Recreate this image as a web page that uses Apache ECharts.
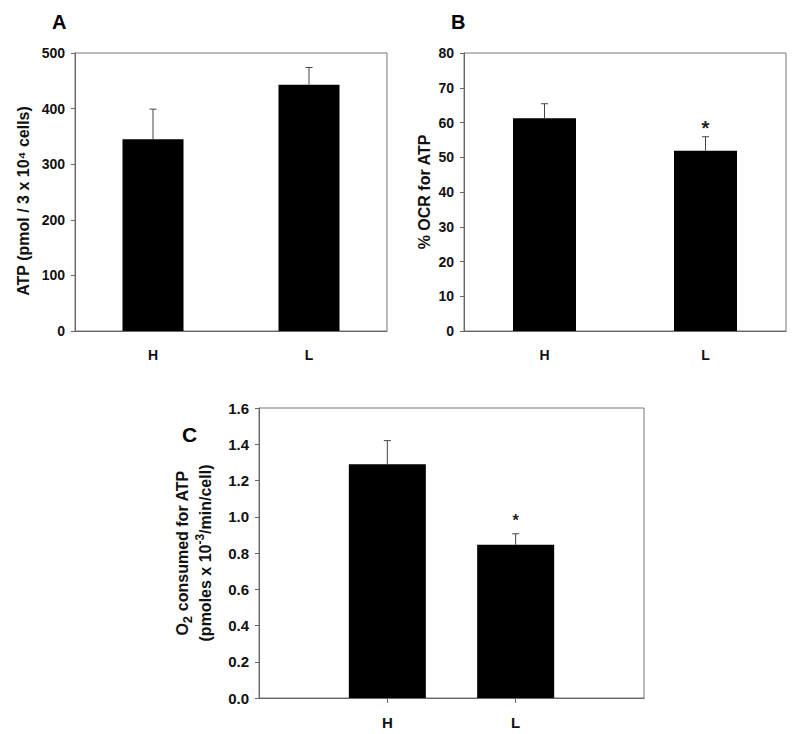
<!DOCTYPE html>
<html>
<head>
<meta charset="utf-8">
<script src="https://cdn.jsdelivr.net/npm/echarts@6/dist/echarts.min.js"></script>
<style>html,body{margin:0;padding:0;background:#fff}#c{width:800px;height:734px}</style>
</head>
<body>
<div id="c"></div>
<script>
// ---- data ----
const categories = ['H', 'L'];
const atpMean = [345, 443];
const atpErr = [54, 31];
const atpSig = [false, false];
const ocrMean = [61.2, 51.9];
const ocrErr = [4.2, 4.0];
const ocrSig = [false, true];
const o2Mean = [1.29, 0.845];
const o2Err = [0.13, 0.061];
const o2Sig = [false, true];
const yTicksA = [0, 500, 100];
const yTicksB = [0, 80, 10];
const yTicksC = [0, 1.6, 0.2];

const FONT = "'Liberation Sans', Arial, sans-serif";
const AX = '#666';

function errSeries(xi, yi, means, errs, sig, idxShift, starSize, starOff) {
  return {
    type: 'custom',
    xAxisIndex: xi, yAxisIndex: yi, z: 5,
    data: means.map((m, i) => [i + idxShift, m, errs[i], sig[i] ? 1 : 0]),
    renderItem: function (params, api) {
      const x = api.value(0), v = api.value(1), e = api.value(2), s = api.value(3);
      const b = api.coord([x, v]);
      const t = api.coord([x, v + e]);
      const ch = [
        {type: 'line', shape: {x1: b[0], y1: b[1], x2: t[0], y2: t[1]}, style: {stroke: '#444', lineWidth: 1}},
        {type: 'line', shape: {x1: t[0] - 3.5, y1: t[1], x2: t[0] + 3.5, y2: t[1]}, style: {stroke: '#444', lineWidth: 1}}
      ];
      if (s) {
        ch.push({type: 'text', style: {text: '*', x: t[0], y: t[1] - starOff, fontSize: starSize, fontWeight: 'bold', fontFamily: FONT, fill: '#222', textAlign: 'center', textVerticalAlign: 'middle'}});
      }
      return {type: 'group', children: ch};
    }
  };
}

function yAxis(gi, ticks, name, gap, nameStyle, labelSize, fmt) {
  return {
    type: 'value', gridIndex: gi, min: ticks[0], max: ticks[1], interval: ticks[2],
    name: name, nameLocation: 'middle', nameGap: gap, nameRotate: 90,
    nameTextStyle: Object.assign({fontFamily: FONT, fontWeight: 'bold', fontSize: 16, color: '#111'}, nameStyle),
    axisLine: {show: true, lineStyle: {color: AX, width: 1}},
    axisTick: {show: true, inside: false, length: 4, lineStyle: {color: AX}},
    splitLine: {show: false},
    axisLabel: {fontFamily: FONT, fontWeight: 'bold', fontSize: labelSize, color: '#111', margin: 10, formatter: fmt}
  };
}

const richC = {
  n: {fontFamily: FONT, fontWeight: 'bold', fontSize: 16, color: '#111', lineHeight: 23},
  sub: {fontFamily: FONT, fontWeight: 'bold', fontSize: 13, color: '#111', lineHeight: 13, verticalAlign: 'bottom'},
  sup: {fontFamily: FONT, fontWeight: 'bold', fontSize: 12, color: '#111', lineHeight: 12, verticalAlign: 'top'}
};

const option = {
  animation: false,
  backgroundColor: '#fff',
  title: [
    {text: 'A', left: 47, top: 7, textStyle: {fontFamily: FONT, fontWeight: 'bold', fontSize: 20, color: '#000'}},
    {text: 'B', left: 446, top: 7, textStyle: {fontFamily: FONT, fontWeight: 'bold', fontSize: 20, color: '#000'}},
    {text: 'C', left: 177, top: 419, textStyle: {fontFamily: FONT, fontWeight: 'bold', fontSize: 21, color: '#000'}}
  ],
  grid: [
    {left: 75, top: 53, width: 312, height: 278, show: true, borderColor: '#777', borderWidth: 1},
    {left: 464, top: 53, width: 322, height: 278, show: true, borderColor: '#777', borderWidth: 1},
    {left: 259, top: 408, width: 385, height: 290, show: true, borderColor: '#777', borderWidth: 1}
  ],
  xAxis: [
    {type: 'category', gridIndex: 0, data: categories,
     axisLine: {lineStyle: {color: AX}}, axisTick: {show: false},
     axisLabel: {fontFamily: FONT, fontWeight: 'bold', fontSize: 14, color: '#111', margin: 17}},
    {type: 'category', gridIndex: 1, data: categories,
     axisLine: {lineStyle: {color: AX}}, axisTick: {show: false},
     axisLabel: {fontFamily: FONT, fontWeight: 'bold', fontSize: 14, color: '#111', margin: 17}},
    {type: 'category', gridIndex: 2, data: [''].concat(categories, ['']), boundaryGap: false,
     axisLine: {lineStyle: {color: AX}},
     axisTick: {show: true, length: 5, lineStyle: {color: AX}, interval: function (i) { return i > 0 && i <= categories.length; }},
     axisLabel: {fontFamily: FONT, fontWeight: 'bold', fontSize: 15, color: '#111', margin: 17, interval: 0}}
  ],
  yAxis: [
    yAxis(0, yTicksA, 'ATP (pmol / 3 x 10\u2074 cells)', 44, {padding: [0, 18, 0, 0]}, 14, null),
    yAxis(1, yTicksB, '% OCR for ATP', 32, {}, 14, null),
    yAxis(2, yTicksC, '{n|O}{sub|2}{n| consumed for ATP}\n{n|(pmoles x 10}{sup|-3}{n|/min/cell)}', 42, {lineHeight: 23, rich: richC}, 15, function (v) { return v.toFixed(1); })
  ],
  series: [
    {type: 'bar', xAxisIndex: 0, yAxisIndex: 0, data: atpMean, barWidth: 61, itemStyle: {color: '#000'}},
    {type: 'bar', xAxisIndex: 1, yAxisIndex: 1, data: ocrMean, barWidth: 63, itemStyle: {color: '#000'}},
    {type: 'bar', xAxisIndex: 2, yAxisIndex: 2, data: [null].concat(o2Mean, [null]), barWidth: 77, itemStyle: {color: '#000'}},
    errSeries(0, 0, atpMean, atpErr, atpSig, 0, 18, 10),
    errSeries(1, 1, ocrMean, ocrErr, ocrSig, 0, 20, 9),
    errSeries(2, 2, o2Mean, o2Err, o2Sig, 1, 16, 13)
  ]
};

const chart = echarts.init(document.getElementById('c'), null, {renderer: 'svg'});
chart.setOption(option);
</script>
</body>
</html>
